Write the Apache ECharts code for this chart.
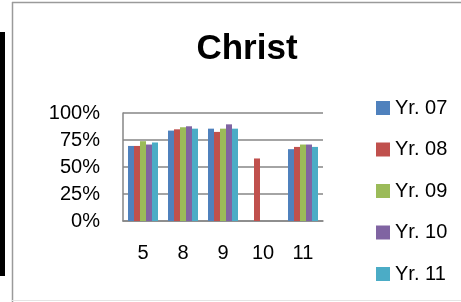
<!DOCTYPE html>
<html>
<head>
<meta charset="utf-8">
<script src="https://cdn.jsdelivr.net/npm/echarts@6/dist/echarts.min.js"></script>
<style>
html, body { margin: 0; padding: 0; background: #fff; }
#main { width: 461px; height: 302px; }
</style>
</head>
<body>
<div id="main"></div>
<script>
var categories = ['5', '8', '9', '10', '11'];
var seriesNames = ['Yr. 07', 'Yr. 08', 'Yr. 09', 'Yr. 10', 'Yr. 11'];
var yr07 = [69.5, 83.7, 85.5, null, 66.5];
var yr08 = [69.5, 84.9, 82.5, 57.9, 68.6];
var yr09 = [73.9, 86.8, 85.5, null, 70.8];
var yr10 = [70.8, 87.7, 89.5, null, 70.8];
var yr11 = [72.7, 85.5, 85.5, null, 68.6];
var colors = ['#4F81BD', '#C0504D', '#9BBB59', '#8064A2', '#4BACC6'];
var yTicks = [0, 25, 50, 75, 100];

var allData = [yr07, yr08, yr09, yr10, yr11];
var chart = echarts.init(document.getElementById('main'));
var option = {
    animation: false
    , title: {
        text: 'Christ'
        , left: 242
        , textAlign: 'center'
        , top: 27
        , textStyle: {
            fontFamily: 'Liberation Sans'
            , fontSize: 35
            , fontWeight: 'bold'
            , color: '#000'
        }
    }
    , legend: {
        orient: 'vertical'
        , left: 371
        , top: 93
        , itemWidth: 14
        , itemHeight: 14
        , itemGap: 21.5
        , icon: 'rect'
        , data: seriesNames
        , textStyle: {
            fontFamily: 'Liberation Sans'
            , fontSize: 20
            , lineHeight: 20
            , color: '#000'
        }
    }
    , grid: {
        left: 123
        , top: 113
        , width: 200
        , height: 108
    }
    , xAxis: {
        type: 'category'
        , data: categories
        , axisTick: { show: false }
        , axisLine: { lineStyle: { color: '#868686', width: 1.5 } }
        , axisLabel: {
            fontFamily: 'Liberation Sans'
            , fontSize: 20
            , color: '#000'
            , margin: 22
        }
    }
    , yAxis: {
        type: 'value'
        , min: yTicks[0]
        , max: yTicks[yTicks.length - 1]
        , interval: 25
        , axisLine: { show: true, lineStyle: { color: '#868686', width: 1.5 } }
        , axisTick: { show: false }
        , splitLine: { lineStyle: { color: '#868686', width: 1.5 } }
        , axisLabel: {
            formatter: '{value}%'
            , fontFamily: 'Liberation Sans'
            , fontSize: 20
            , color: '#000'
            , margin: 23
        }
    }
    , graphic: [
        { type: 'rect', shape: { x: 0, y: 32, width: 5, height: 244 }, style: { fill: '#000' } }
        , { type: 'line', shape: { x1: 12.5, y1: 2, x2: 12.5, y2: 302 }, style: { stroke: '#9a9a9a', lineWidth: 1.5 } }
        , { type: 'line', shape: { x1: 12, y1: 2.5, x2: 461, y2: 2.5 }, style: { stroke: '#9a9a9a', lineWidth: 1.5 } }
        , { type: 'line', shape: { x1: 12, y1: 300.5, x2: 461, y2: 300.5 }, style: { stroke: '#e4e4e4', lineWidth: 1 } }
    ]
    , series: []
};
for (var i = 0; i < seriesNames.length; i++) {
    option.series.push({
        name: seriesNames[i]
        , type: 'bar'
        , barWidth: 6
        , barGap: '0%'
        , itemStyle: { color: colors[i] }
        , data: allData[i]
    });
}
chart.setOption(option);
</script>
</body>
</html>
